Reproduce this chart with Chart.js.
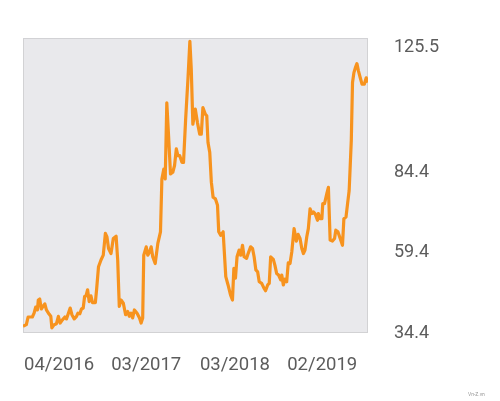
<!DOCTYPE html>
<html>
<head>
<meta charset="utf-8">
<script src="https://cdn.jsdelivr.net/npm/chart.js@4/dist/chart.umd.min.js"></script>
<style>
  html, body { margin: 0; padding: 0; background: #fff; }
  #wrap { position: relative; width: 500px; height: 401px; }
  #mark { position: absolute; left: 468px; top: 391px; font: 5px Roboto, sans-serif; color: #999; }
</style>
</head>
<body>
<div id="wrap">
  <canvas id="myChart" width="500" height="401"></canvas>
  <div id="mark">Vn-Z.vn</div>
</div>
<script>
// week number since start of series
const weeks = [
  0, 1.9, 2.9, 5.3, 6.3, 7.2, 8.2, 8.7, 9.5, 10.4, 11.4, 12.4, 13.3, 14.8, 15.8, 16.4, 17.7, 19.0, 20.1, 21.1,
  22.4, 23.8, 24.7, 25.8, 26.8, 27.8, 29.1, 30.4, 31.2, 32.3, 33.2, 34.2, 35.0, 35.8, 36.7, 37.6, 38.6, 39.5, 41.1, 41.8,
  42.9, 44.3, 45.6, 46.8, 47.7, 48.6, 50.0, 51.3, 52.9, 53.8, 54.7, 55.7, 57.0, 58.3, 59.5, 60.4, 61.4, 62.3, 63.3, 64.8,
  66.2, 67.1, 68.0, 68.6, 70.0, 70.9, 71.9, 72.8, 73.7, 75.1, 76.6, 78.1, 78.9, 80.0, 80.8, 81.7, 82.7, 83.8, 85.1, 86.1,
  87.1, 88.0, 89.0, 90.3, 91.2, 92.4, 93.7, 94.8, 95.6, 96.5, 97.9, 99.1, 100.4, 101.3, 102.2, 103.6, 104.4, 105.1, 106.1, 107.0,
  108.0, 109.3, 110.5, 111.2, 112.3, 113.7, 115.2, 116.5, 117.9, 119.0, 119.8, 120.7, 121.6, 122.8, 123.7, 124.7, 125.6, 127.0, 127.9, 129.3,
  130.4, 131.3, 132.3, 133.3, 134.2, 135.6, 136.9, 137.8, 139.0, 139.9, 140.7, 142.2, 143.1, 144.1, 145.2, 146.4, 147.0, 147.9, 148.8, 149.8,
  150.7, 151.7, 152.7, 154.0, 155.3, 156.3, 157.4, 158.4, 159.3, 160.2, 161.2, 162.1, 163.1, 164.1, 165.0, 165.9, 167.3, 167.8, 168.8, 169.8,
  170.3, 171.3, 172.6, 173.5, 174.5, 175.8, 177.0, 177.7, 178.9, 180.2, 181.5, 182.3, 183.5, 184.4, 185.3, 186.5, 187.2, 188.0, 188.8, 189.7,
  190.6, 191.6, 192.6, 193.9, 195.0, 196.0
];
const prices = [
  36.5, 37.0, 39.4, 39.4, 40.6, 42.5, 41.6, 44.7, 45.0, 41.9, 42.7, 43.5, 41.6, 40.3, 39.6, 36.0, 37.0, 37.3, 39.6, 37.5,
  38.5, 39.4, 38.8, 40.6, 42.2, 40.1, 38.8, 39.6, 40.6, 40.4, 41.9, 42.2, 45.8, 46.0, 47.9, 44.2, 46.0, 43.9, 43.9, 47.9,
  55.1, 57.2, 58.7, 65.5, 64.4, 60.8, 59.2, 63.9, 64.6, 57.2, 42.7, 44.7, 43.7, 40.1, 41.1, 39.6, 40.6, 39.1, 41.6, 40.6,
  39.1, 37.5, 39.1, 58.7, 61.3, 58.7, 59.7, 61.3, 58.2, 56.1, 62.4, 66.0, 82.5, 85.6, 82.5, 106.3, 96.0, 84.1, 84.6, 86.7,
  91.9, 89.8, 89.8, 87.7, 87.7, 101.2, 113.6, 125.5, 116.7, 99.6, 104.3, 100.1, 96.5, 96.5, 104.8, 102.7, 102.2, 93.9, 90.8, 81.5,
  76.8, 76.3, 74.3, 66.0, 64.9, 66.0, 52.0, 49.4, 46.3, 44.7, 54.6, 51.5, 58.2, 60.3, 58.7, 61.8, 58.2, 57.7, 59.2, 61.3,
  60.8, 58.2, 54.1, 53.5, 50.4, 49.9, 48.4, 47.6, 49.4, 49.9, 58.2, 57.4, 55.6, 53.0, 52.5, 51.0, 52.5, 49.4, 51.2, 50.4,
  56.3, 56.1, 59.7, 67.0, 63.1, 65.2, 63.9, 60.8, 59.2, 60.3, 64.4, 67.0, 73.2, 71.7, 72.2, 71.7, 69.6, 71.7, 70.1, 70.1,
  74.8, 74.8, 77.9, 79.9, 63.4, 63.1, 63.9, 66.5, 66.0, 63.9, 61.8, 70.1, 70.6, 74.8, 78.9, 94.4, 112.6, 115.7, 117.2, 118.5,
  116.2, 114.1, 112.1, 112.1, 114.1, 112.6
];
const xTickWeeks = [20.5, 70, 120.4, 170];
const xTickLabels = ['04/2016', '03/2017', '03/2018', '02/2019'];
const yTicks = [34.4, 59.4, 84.4, 125.5];

const plotBg = {
  id: 'plotBg',
  beforeDraw(chart) {
    const { ctx, chartArea: a } = chart;
    ctx.save();
    ctx.fillStyle = '#e9e9ec';
    ctx.fillRect(a.left, a.top, a.right - a.left, a.bottom - a.top);
    ctx.strokeStyle = '#d2d2d4';
    ctx.lineWidth = 1;
    ctx.strokeRect(a.left + 0.5, a.top + 0.5, a.right - a.left - 1, a.bottom - a.top - 1);
    ctx.restore();
  }
};

const ctx = document.getElementById('myChart').getContext('2d');
const myChart = new Chart(ctx, {
  type: 'line',
  data: {
    datasets: [{
      data: prices.map((p, i) => ({ x: weeks[i], y: p })),
      borderColor: '#f7931e',
      borderWidth: 3.2,
      borderJoinStyle: 'round',
      pointRadius: 0,
      tension: 0,
      fill: false
    }]
  },
  options: {
    responsive: false,
    animation: false,
    layout: { padding: { left: 23, top: 36, right: 0, bottom: 0 } },
    plugins: { legend: { display: false }, tooltip: { enabled: false } },
    scales: {
      x: {
        type: 'linear',
        min: 0,
        max: 196,
        grid: { display: false },
        border: { display: false },
        afterBuildTicks: (scale) => { scale.ticks = xTickWeeks.map(v => ({ value: v })); },
        afterFit: (scale) => { scale.height = 68; },
        ticks: {
          padding: 13,
          maxRotation: 0,
          autoSkip: false,
          color: '#5c5c5c',
          font: { family: 'Roboto', size: 18.5 },
          callback: (v, i) => xTickLabels[i]
        }
      },
      y: {
        position: 'right',
        min: 34.4,
        max: 126.5,
        grid: { display: false, drawTicks: false },
        border: { display: false },
        afterBuildTicks: (scale) => { scale.ticks = yTicks.map(v => ({ value: v })); },
        afterFit: (scale) => { scale.width = 132; },
        ticks: {
          padding: 26,
          color: '#5c5c5c',
          font: { family: 'Roboto', size: 18, lineHeight: 0.67 },
          // the top label sits a little below its tick in the original
          callback: (v) => v === 125.5 ? ['', v.toFixed(1)] : v.toFixed(1)
        }
      }
    }
  },
  plugins: [plotBg]
});
</script>
</body>
</html>
